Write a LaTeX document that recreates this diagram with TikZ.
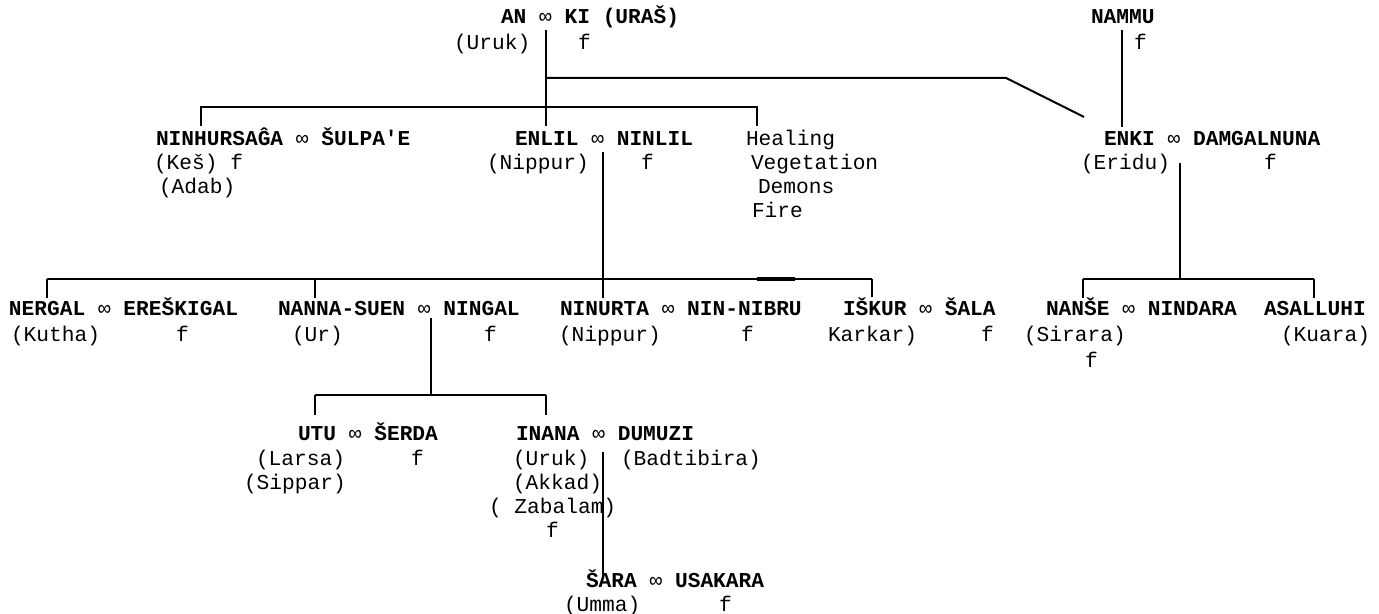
\documentclass[tikz,border=0pt]{standalone}
\usepackage{fontspec}
\setmonofont{Liberation Mono}
\usetikzlibrary{positioning}

\newcommand{\marr}{{\mdseries ∞}}

\begin{document}
\begin{tikzpicture}[x=0.5pt,y=-0.5pt,line width=1pt,
    god/.style={anchor=base west,inner sep=0pt,yshift=-1pt,font=\fontsize{10.6}{12}\selectfont\ttfamily\bfseries},
    city/.style={anchor=base west,inner sep=0pt,yshift=-1pt,font=\fontsize{10.6}{12}\selectfont\ttfamily}]
  \useasboundingbox (0,0) rectangle (1379,614);

  \node[god]  (anki)    at (500,22)  {AN \marr{} KI (URAŠ)};
  \node[city] (uruk1)   at (453,48)  {(Uruk)};
  \node[city] (ankif)   at (577,48)  {f};
  \node[god]  (nammu)   at (1090,22) {NAMMU};
  \node[city] (nammuf)  at (1133,48) {f};

  \node[god]  (ninhur)  at (155,144) {NINHURSAĜA \marr{} ŠULPA'E};
  \node[city] (kes)     at (153,168) {(Keš) f};
  \node[city] (adab)    at (158,192) {(Adab)};
  \node[god]  (enlil)   at (514,144) {ENLIL \marr{} NINLIL};
  \node[city] (nippur1) at (486,168) {(Nippur)};
  \node[city] (enlilf)  at (640,168) {f};
  \node[city] (healing) at (745,144) {Healing};
  \node[city] (veget)   at (750,168) {Vegetation};
  \node[city] (demons)  at (757,192) {Demons};
  \node[city] (fire)    at (751,216) {Fire};
  \node[god]  (enki)    at (1103,144) {ENKI \marr{} DAMGALNUNA};
  \node[city] (eridu)   at (1080,168) {(Eridu)};
  \node[city] (enkif)   at (1263,168) {f};

  \node[god]  (nergal)  at (8,313)   {NERGAL \marr{} EREŠKIGAL};
  \node[city] (kutha)   at (10,340)  {(Kutha)};
  \node[city] (nergalf) at (175,340) {f};
  \node[god]  (nanna)   at (277,313) {NANNA-SUEN \marr{} NINGAL};
  \node[city] (ur)      at (291,340) {(Ur)};
  \node[city] (nannaf)  at (483,340) {f};
  \node[god]  (ninurta) at (559,313) {NINURTA \marr{} NIN-NIBRU};
  \node[city] (nippur2) at (558,340) {(Nippur)};
  \node[city] (ninurtaf) at (740,340) {f};
  \node[god]  (iskur)   at (842,313) {IŠKUR \marr{} ŠALA};
  \node[city] (karkar)  at (827,340) {Karkar)};
  \node[city] (iskurf)  at (980,340) {f};
  \node[god]  (nanse)   at (1045,313) {NANŠE \marr{} NINDARA};
  \node[city] (sirara)  at (1023,340) {(Sirara)};
  \node[city] (nansef)  at (1084,365) {f};
  \node[god]  (asal)    at (1263,313) {ASALLUHI};
  \node[city] (kuara)   at (1280,340) {(Kuara)};

  \node[god]  (utu)     at (297,438) {UTU \marr{} ŠERDA};
  \node[city] (larsa)   at (255,463) {(Larsa)};
  \node[city] (utuf)    at (410,463) {f};
  \node[city] (sippar)  at (243,487) {(Sippar)};
  \node[god]  (inana)   at (515,438) {INANA \marr{} DUMUZI};
  \node[city] (uruk2)   at (512,463) {(Uruk)};
  \node[city] (akkad)   at (512,487) {(Akkad)};
  \node[city] (zabalam) at (488,511) {( Zabalam)};
  \node[city] (inanaf)  at (545,535) {f};
  \node[city] (badti)   at (620,463) {(Badtibira)};
  \node[god]  (sara)    at (585,585) {ŠARA \marr{} USAKARA};
  \node[city] (umma)    at (563,609) {(Umma)};
  \node[city] (saraf)   at (718,609) {f};

  \coordinate (anki-s)   at (546,30);
  \coordinate (enlil-n)  at (546,126);
  \coordinate (enki-j)   at (546,78);
  \coordinate (enki-b)   at (1006,78);
  \coordinate (enki-nw)  at (1084,117);
  \coordinate (ninhur-j) at (201,107);
  \coordinate (ninhur-n) at (201,126);
  \coordinate (healing-j) at (757,107);
  \coordinate (healing-n) at (757,126);
  \coordinate (nammu-s)  at (1122,30);
  \coordinate (enki-n)   at (1122,127);
  \coordinate (enlil-s)  at (603,152);
  \coordinate (ninurta-n) at (603,298);
  \coordinate (nergal-j) at (47,279);
  \coordinate (nergal-n) at (47,298);
  \coordinate (nanna-j)  at (315,279);
  \coordinate (nanna-n)  at (315,298);
  \coordinate (iskur-j)  at (872,279);
  \coordinate (iskur-n)  at (872,297);
  \coordinate (mark-a)   at (757,279);
  \coordinate (mark-b)   at (795,279);
  \coordinate (nanna-s)  at (431,318);
  \coordinate (nanna-k)  at (431,395);
  \coordinate (utu-j)    at (315,395);
  \coordinate (utu-n)    at (315,415);
  \coordinate (inana-j)  at (546,395);
  \coordinate (inana-n)  at (546,415);
  \coordinate (inana-s)  at (603,452);
  \coordinate (sara-n)   at (603,577);
  \coordinate (enki-s)   at (1180,163);
  \coordinate (enki-k)   at (1180,279);
  \coordinate (nanse-j)  at (1083,279);
  \coordinate (nanse-n)  at (1083,298);
  \coordinate (asal-j)   at (1314,279);
  \coordinate (asal-n)   at (1314,298);

  \draw (anki-s) -- (enlil-n);
  \draw (enki-j) -- (enki-b) -- (enki-nw);
  \draw (ninhur-n) -- (ninhur-j) -- (healing-j) -- (healing-n);
  \draw (nammu-s) -- (enki-n);
  \draw (enlil-s) -- (ninurta-n);
  \draw (nergal-j) -- (iskur-j);
  \foreach \c in {nergal,nanna,iskur,utu,inana,nanse,asal}
    \draw (\c-j) -- (\c-n);
  \draw[line width=1.6pt] (mark-a) -- (mark-b);
  \draw (nanna-s) -- (nanna-k);
  \draw (utu-j) -- (inana-j);
  \draw (inana-s) -- (sara-n);
  \draw (enki-s) -- (enki-k);
  \draw (nanse-j) -- (asal-j);
\end{tikzpicture}
\end{document}
